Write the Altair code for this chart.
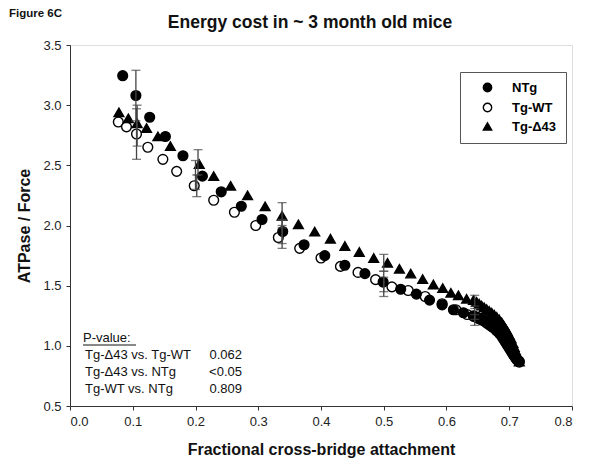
import altair as alt
import pandas as pd

groups = ["NTg", "Tg-WT", "Tg-Δ43"]

ntg_x = [0.084, 0.105, 0.127, 0.152, 0.180, 0.211, 0.241, 0.273, 0.306, 0.339, 0.373, 0.406,
         0.438, 0.470, 0.499, 0.527, 0.552, 0.573, 0.593, 0.611, 0.627, 0.643, 0.648, 0.652,
         0.656, 0.660, 0.664, 0.668, 0.672, 0.676, 0.680, 0.684, 0.688, 0.691, 0.694, 0.697,
         0.700, 0.703, 0.706, 0.708, 0.710, 0.712, 0.714, 0.716]
ntg_y = [3.245, 3.08, 2.90, 2.74, 2.58, 2.41, 2.28, 2.16, 2.05, 1.95, 1.84, 1.75,
         1.67, 1.60, 1.53, 1.47, 1.43, 1.38, 1.34, 1.30, 1.275, 1.25, 1.24, 1.23,
         1.22, 1.21, 1.195, 1.18, 1.165, 1.15, 1.13, 1.11, 1.085, 1.06, 1.035, 1.01,
         0.985, 0.96, 0.935, 0.92, 0.905, 0.89, 0.88, 0.87]

wt_x = [0.077, 0.090, 0.106, 0.124, 0.148, 0.170, 0.198, 0.229, 0.262, 0.296, 0.332, 0.366,
        0.400, 0.431, 0.459, 0.487, 0.513, 0.539, 0.566, 0.593, 0.615, 0.633, 0.643, 0.648,
        0.652, 0.656, 0.660, 0.664, 0.668, 0.672, 0.676, 0.680, 0.684, 0.688, 0.691, 0.694,
        0.697, 0.700, 0.703, 0.706, 0.708, 0.710, 0.712, 0.714, 0.716]
wt_y = [2.86, 2.82, 2.76, 2.65, 2.55, 2.45, 2.33, 2.21, 2.11, 2.00, 1.90, 1.81,
        1.73, 1.66, 1.61, 1.55, 1.49, 1.46, 1.41, 1.35, 1.30, 1.26, 1.245, 1.235,
        1.225, 1.215, 1.205, 1.19, 1.175, 1.16, 1.145, 1.125, 1.105, 1.08, 1.055, 1.03,
        1.005, 0.98, 0.955, 0.93, 0.915, 0.90, 0.885, 0.875, 0.865]

d43_x = [0.078, 0.093, 0.107, 0.122, 0.140, 0.160, 0.206, 0.229, 0.256, 0.283, 0.311, 0.338,
         0.364, 0.390, 0.415, 0.438, 0.461, 0.484, 0.506, 0.525, 0.543, 0.562, 0.579, 0.594,
         0.607, 0.619, 0.632, 0.643, 0.648, 0.652, 0.656, 0.660, 0.664, 0.668, 0.672, 0.676,
         0.680, 0.684, 0.688, 0.691, 0.694, 0.697, 0.700, 0.703, 0.706, 0.708, 0.710, 0.712,
         0.714, 0.716]
d43_y = [2.94, 2.89, 2.85, 2.81, 2.74, 2.66, 2.51, 2.41, 2.33, 2.25, 2.16, 2.08,
         2.01, 1.95, 1.89, 1.83, 1.78, 1.73, 1.69, 1.64, 1.60, 1.555, 1.51, 1.48,
         1.44, 1.42, 1.39, 1.38, 1.365, 1.35, 1.335, 1.32, 1.305, 1.29, 1.275, 1.26,
         1.24, 1.22, 1.195, 1.17, 1.145, 1.12, 1.09, 1.06, 1.02, 0.99, 0.96, 0.93,
         0.90, 0.87]

# error bars (mean +/- SEM)
err_x = [0.105, 0.106, 0.107, 0.200, 0.202, 0.204, 0.338, 0.338, 0.338,
         0.500, 0.500, 0.500, 0.645, 0.645, 0.645]
err_lo = [2.87, 2.55, 2.66, 2.30, 2.24, 2.42, 1.85, 1.81, 1.98,
          1.45, 1.41, 1.62, 1.22, 1.17, 1.33]
err_hi = [3.29, 2.97, 3.00, 2.54, 2.42, 2.63, 2.05, 2.00, 2.19,
          1.62, 1.57, 1.76, 1.31, 1.26, 1.42]

pval_labels = ["Tg-Δ43 vs. Tg-WT", "Tg-Δ43 vs. NTg", "Tg-WT vs. NTg"]
pval_values = ["0.062", "<0.05", "0.809"]

FONT = "Liberation Sans"

pts = pd.concat([
    pd.DataFrame({"x": wt_x, "y": wt_y, "group": "Tg-WT"}),
    pd.DataFrame({"x": d43_x, "y": d43_y, "group": "Tg-Δ43"}),
    pd.DataFrame({"x": ntg_x, "y": ntg_y, "group": "NTg"}),
], ignore_index=True)
pts["order"] = range(len(pts))

err = pd.DataFrame({"x": err_x, "lo": err_lo, "hi": err_hi})

xs = alt.Scale(domain=[0, 0.8], nice=False)
ys = alt.Scale(domain=[0.5, 3.5], nice=False)

xaxis = alt.Axis(values=[0, 0.1, 0.2, 0.3, 0.4, 0.5, 0.6, 0.7, 0.8], format=".1f",
                 title="Fractional cross-bridge attachment", grid=False,
                 labelFont=FONT, labelFontSize=13, labelColor="#222", labelPadding=5,
                 titleFont=FONT, titleFontSize=16, titleFontWeight="bold", titleColor="#111",
                 titlePadding=13, tickSize=4, tickColor="#333", domainColor="#333")
yaxis = alt.Axis(values=[0.5, 1.0, 1.5, 2.0, 2.5, 3.0, 3.5], format=".1f",
                 title="ATPase / Force", grid=False,
                 labelFont=FONT, labelFontSize=13, labelColor="#222", labelPadding=5,
                 titleFont=FONT, titleFontSize=16, titleFontWeight="bold", titleColor="#111",
                 titlePadding=10, tickSize=4, tickColor="#333", domainColor="#333")

leg = dict(title=None, orient="none", legendX=390, legendY=27,
           fillColor="white", strokeColor="#555", padding=9,
           symbolOffset=12, labelOffset=18, rowPadding=5,
           labelFont=FONT, labelFontSize=13, labelFontWeight="bold",
           symbolSize=70, symbolStrokeWidth=1.4)

points = alt.Chart(pts).mark_point(size=95, strokeWidth=1.4, opacity=1).encode(
    x=alt.X("x:Q", scale=xs, axis=xaxis),
    y=alt.Y("y:Q", scale=ys, axis=yaxis),
    fill=alt.Fill("group:N", scale=alt.Scale(domain=groups, range=["black", "white", "black"]),
                  legend=alt.Legend(**leg)),
    stroke=alt.Stroke("group:N", scale=alt.Scale(domain=groups, range=["black", "black", "black"]),
                      legend=alt.Legend(**leg)),
    shape=alt.Shape("group:N", scale=alt.Scale(domain=groups,
                                               range=["circle", "circle", "triangle-up"]),
                    legend=alt.Legend(**leg)),
    order=alt.Order("order:Q"),
)

bars = alt.Chart(err).mark_rule(color="#444", strokeWidth=1.3).encode(
    x=alt.X("x:Q", scale=xs), y=alt.Y("lo:Q", scale=ys), y2="hi:Q")
caps_lo = alt.Chart(err).mark_tick(color="#444", orient="horizontal", size=9, thickness=1.3).encode(
    x=alt.X("x:Q", scale=xs), y=alt.Y("lo:Q", scale=ys))
caps_hi = alt.Chart(err).mark_tick(color="#444", orient="horizontal", size=9, thickness=1.3).encode(
    x=alt.X("x:Q", scale=xs), y=alt.Y("hi:Q", scale=ys))


def label(text, x, y, size=13, weight="normal", align="left"):
    df = pd.DataFrame({"t": [text]})
    return alt.Chart(df).mark_text(font=FONT, fontSize=size, fontWeight=weight, color="#111",
                                   align=align, baseline="middle").encode(
        text="t:N", x=alt.value(x), y=alt.value(y))


texts = [
    label("Energy cost in ~ 3 month old mice", 240, -22, size=17.5, weight="bold", align="center"),
    label("Figure 6C", -61, -31, size=11.5, weight="bold"),
    label("P-value:", 13, 293),
]
for i, (lab, val) in enumerate(zip(pval_labels, pval_values)):
    texts.append(label(lab, 15, 310 + 17 * i))
    texts.append(label(val, 172, 310 + 17 * i, align="right"))

uline = alt.Chart(pd.DataFrame({"t": ["P-value:"]})).mark_rule(color="#111", strokeWidth=1).encode(
    x=alt.value(13), x2=alt.value(66), y=alt.value(300))

chart = alt.layer(points, bars, caps_lo, caps_hi, uline, *texts).properties(
    width=502, height=361,
    autosize=alt.AutoSizeParams(type="none"),
    padding={"left": 62, "top": 37, "right": 16, "bottom": 60},
).configure_view(stroke="#333", strokeWidth=1).configure(background="white")

chart.save("out.html", embed_options={"renderer": "svg", "actions": False})
